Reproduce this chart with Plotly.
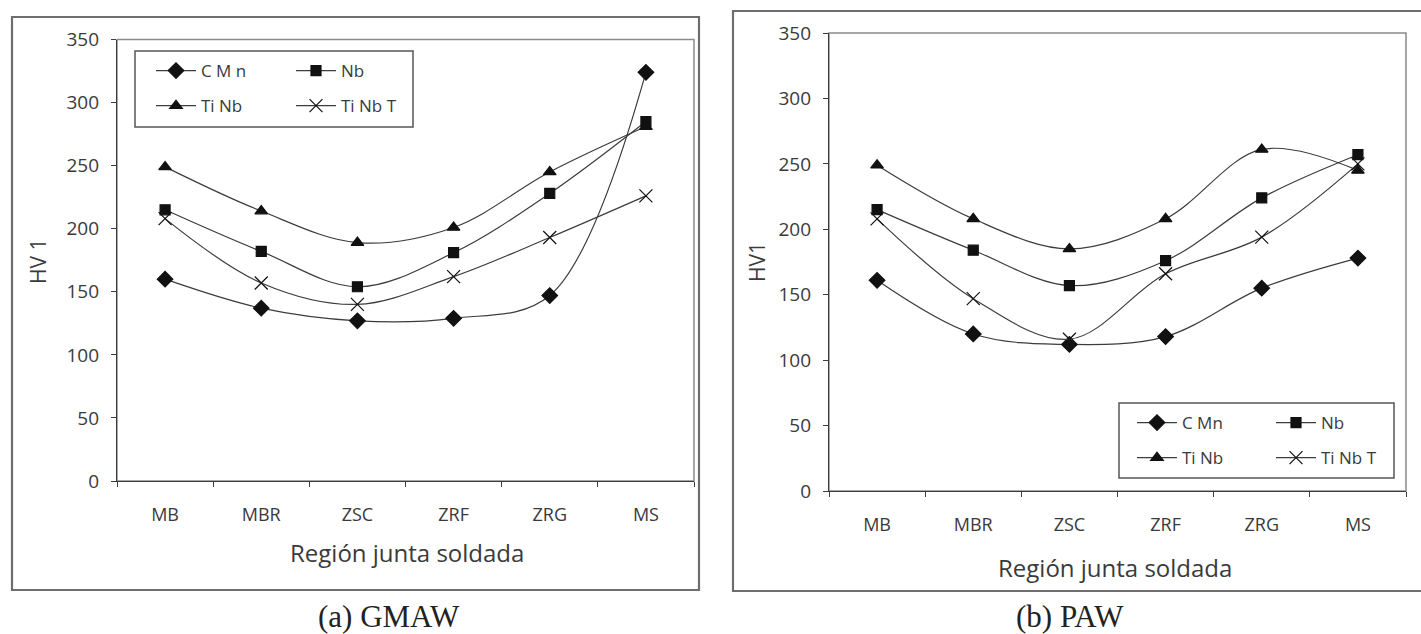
import plotly.graph_objects as go

W, H = 1421, 634

categories = ["MB", "MBR", "ZSC", "ZRF", "ZRG", "MS"]
y_ticks = [0, 50, 100, 150, 200, 250, 300, 350]

# (a) GMAW
gmaw_cmn = [160, 137, 127, 129, 147, 324]
gmaw_nb = [215, 182, 154, 181, 228, 285]
gmaw_tinb = [249, 214, 189, 201, 245, 281]
gmaw_tinbt = [208, 157, 140, 162, 193, 226]

# (b) PAW
paw_cmn = [161, 120, 112, 118, 155, 178]
paw_nb = [215, 184, 157, 176, 224, 257]
paw_tinb = [249, 208, 185, 208, 261, 245]
paw_tinbt = [208, 147, 116, 166, 194, 250]

names_a = ["C M n", "Nb", "Ti Nb", "Ti Nb T"]
names_b = ["C Mn", "Nb", "Ti Nb", "Ti Nb T"]


def px_x(x):
    return x / W


def px_y(y):
    return 1 - y / H


LINE = "#3c3c3c"
TXT = "#3a3a3a"
FONT = "Open Sans"

symbols = ["diamond", "square", "triangle-up", "x-thin-open"]
sizes = [12, 10, 11, 13]

fig = go.Figure()

series_a = [gmaw_cmn, gmaw_nb, gmaw_tinb, gmaw_tinbt]
series_b = [paw_cmn, paw_nb, paw_tinb, paw_tinbt]
leg_a = ["legend", "legend2", "legend", "legend2"]
leg_b = ["legend3", "legend4", "legend3", "legend4"]

for i in range(4):
    fig.add_trace(go.Scatter(
        x=categories, y=series_a[i], name=names_a[i], mode="lines+markers",
        line=dict(color=LINE, width=1.2, shape="spline", smoothing=1),
        marker=dict(symbol=symbols[i], size=sizes[i], color="#111111",
                    line=dict(color="#111111", width=1.2)),
        xaxis="x", yaxis="y", legend=leg_a[i], legendgroup="a%d" % i,
    ))
for i in range(4):
    fig.add_trace(go.Scatter(
        x=categories, y=series_b[i], name=names_b[i], mode="lines+markers",
        line=dict(color=LINE, width=1.2, shape="spline", smoothing=1),
        marker=dict(symbol=symbols[i], size=sizes[i], color="#111111",
                    line=dict(color="#111111", width=1.2)),
        xaxis="x2", yaxis="y2", legend=leg_b[i], legendgroup="b%d" % i,
    ))

A = dict(l=117, r=694, t=39.5, b=481)
B = dict(l=829, r=1406, t=33, b=491)

xaxis_common = dict(
    type="category", range=[-0.5, 5.5], showline=True, linecolor=LINE, linewidth=1.2,
    ticks="outside", tickson="boundaries", ticklen=5, tickcolor=LINE,
    tickfont=dict(family=FONT, size=18, color=TXT), ticklabelstandoff=17,
    showgrid=False, zeroline=False, fixedrange=True, automargin=False,
)
yaxis_common = dict(
    range=[0, 350], tickvals=y_ticks, showline=True, linecolor=LINE, linewidth=1.2,
    ticks="outside", ticklen=5, tickcolor=LINE,
    tickfont=dict(family=FONT, size=19, color=TXT), ticklabelstandoff=8,
    showgrid=False, zeroline=False, fixedrange=True, automargin=False,
)

legend_common = dict(
    bgcolor="rgba(0,0,0,0)", borderwidth=0, xanchor="left", yanchor="top",
    font=dict(family=FONT, size=17, color=TXT), traceorder="grouped",
    tracegroupgap=10, itemwidth=40,
)

fig.update_layout(
    template="none",
    width=W, height=H, autosize=False, margin=dict(l=0, r=0, t=0, b=0, pad=0),
    paper_bgcolor="white", plot_bgcolor="white",
    font=dict(family=FONT, color=TXT),
    xaxis=dict(domain=[px_x(A["l"]), px_x(A["r"])], anchor="y", **xaxis_common),
    yaxis=dict(domain=[px_y(A["b"]), px_y(A["t"])], anchor="x", **yaxis_common),
    xaxis2=dict(domain=[px_x(B["l"]), px_x(B["r"])], anchor="y2", **xaxis_common),
    yaxis2=dict(domain=[px_y(B["b"]), px_y(B["t"])], anchor="x2", **yaxis_common),
    legend=dict(x=px_x(151), y=px_y(53), **legend_common),
    legend2=dict(x=px_x(291), y=px_y(53), **legend_common),
    legend3=dict(x=px_x(1132), y=px_y(405), **legend_common),
    legend4=dict(x=px_x(1271), y=px_y(405), **legend_common),
    showlegend=True,
)

shapes = []
for (x0, y0, x1, y1) in [(12, 17, 699, 590), (733, 11, 1424, 591)]:
    shapes.append(dict(type="rect", xref="paper", yref="paper",
                       x0=px_x(x0), x1=px_x(x1), y0=px_y(y1), y1=px_y(y0),
                       line=dict(color="#6e6e6e", width=2.2)))
for P in (A, B):
    shapes.append(dict(type="rect", xref="paper", yref="paper",
                       x0=px_x(P["l"]), x1=px_x(P["r"]), y0=px_y(P["b"]), y1=px_y(P["t"]),
                       line=dict(color="#8a8a8a", width=1.5), layer="below"))
for (x0, y0, x1, y1) in [(135, 51, 413, 127), (1119, 403, 1394, 478)]:
    shapes.append(dict(type="rect", xref="paper", yref="paper",
                       x0=px_x(x0), x1=px_x(x1), y0=px_y(y1), y1=px_y(y0),
                       line=dict(color="#555555", width=1.5)))
fig.update_layout(shapes=shapes)


def ann(text, x, y, size, family=FONT, color=TXT, angle=0):
    return dict(text=text, x=px_x(x), y=px_y(y), xref="paper", yref="paper",
                xanchor="center", yanchor="middle", textangle=angle,
                showarrow=False, font=dict(family=family, size=size, color=color))


annotations = [
    ann("Región junta soldada", 407, 552, 24),
    ann("Región junta soldada", 1115, 567, 24),
    ann("HV 1", 38, 262, 21, angle=-90),
    ann("HV1", 757, 262, 21, angle=-90),
    ann("(a) GMAW", 389, 616, 31, family="Liberation Serif", color="#222222"),
    ann("(b) PAW", 1070, 616, 31, family="Liberation Serif", color="#222222"),
]
fig.update_layout(annotations=annotations)

fig.write_html(
    "out.html",
    config={"displayModeBar": False, "staticPlot": False},
    post_script="document.body.style.margin='0';document.body.style.overflow='hidden';",
)
